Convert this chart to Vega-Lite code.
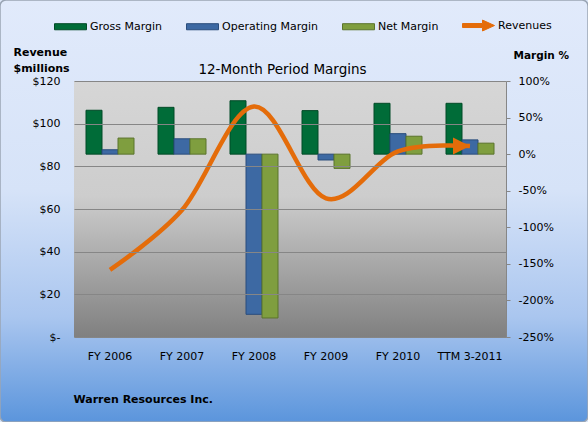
{
  "$schema": "https://vega.github.io/schema/vega-lite/v6.json",
  "width": 588,
  "height": 422,
  "autosize": {"type": "none"},
  "padding": 0,
  "background": "#dce7f9",
  "config": {
    "font": "DejaVu Sans",
    "view": {
      "fill": {
        "gradient": "linear", "x1": 0, "y1": 0, "x2": 0, "y2": 1,
        "stops": [
          {"offset": 0, "color": "#e1eafb"},
          {"offset": 0.45, "color": "#d6e3f8"},
          {"offset": 0.75, "color": "#aac6ef"},
          {"offset": 1, "color": "#5b95dc"}
        ]
      },
      "stroke": "#9aa5b4",
      "strokeWidth": 1.5,
      "cornerRadius": 6
    },
    "axis": {
      "labelFont": "DejaVu Sans",
      "labelFontSize": 11,
      "labelColor": "#000000",
      "titleFont": "DejaVu Sans",
      "titleColor": "#000000"
    }
  },
  "title": {
    "text": "12-Month Period Margins",
    "font": "DejaVu Sans",
    "fontSize": 13.5,
    "fontWeight": "normal",
    "color": "#000000",
    "anchor": "middle",
    "frame": "group",
    "dx": -11.5,
    "offset": -87,
    "baseline": "alphabetic"
  },
  "data": {
    "values": [
      {"period": "FY 2006", "revenue": 31.5, "Gross Margin": 60, "Operating Margin": 6, "Net Margin": 22},
      {"period": "FY 2007", "revenue": 59.5, "Gross Margin": 64, "Operating Margin": 21, "Net Margin": 21},
      {"period": "FY 2008", "revenue": 108, "Gross Margin": 73, "Operating Margin": -219, "Net Margin": -224},
      {"period": "FY 2009", "revenue": 65, "Gross Margin": 59.5, "Operating Margin": -8, "Net Margin": -19.5},
      {"period": "FY 2010", "revenue": 87, "Gross Margin": 69.5, "Operating Margin": 28, "Net Margin": 24.5},
      {"period": "TTM 3-2011", "revenue": 89.5, "Gross Margin": 69.5, "Operating Margin": 19.5, "Net Margin": 15}
    ]
  },
  "layer": [
    {
      "mark": {
        "type": "rect",
        "fill": {
          "gradient": "linear", "x1": 0, "y1": 0, "x2": 0, "y2": 1,
          "stops": [
            {"offset": 0, "color": "#d6d6d6"},
            {"offset": 0.45, "color": "#cdcdcd"},
            {"offset": 1, "color": "#808080"}
          ]
        },
        "strokeWidth": 0
      },
      "encoding": {
        "x": {
          "field": "period", "type": "nominal", "sort": null,
          "scale": {"type": "band", "range": [74, 506], "paddingInner": 0, "paddingOuter": 0},
          "axis": {
            "orient": "bottom",
            "offset": -85,
            "labelAngle": 0,
            "labelPadding": 13,
            "ticks": false,
            "domainColor": "#868686",
            "grid": false,
            "title": "Warren Resources Inc.",
            "titleFontSize": 11,
            "titleFontWeight": "bold",
            "titleAlign": "left",
            "titleAnchor": "start",
            "titleBaseline": "alphabetic",
            "titleX": 73,
            "titleY": 65,
            "zindex": 1
          }
        },
        "y": {
          "datum": 0, "type": "quantitative",
          "scale": {"domain": [0, 120], "range": [337, 81], "nice": false, "zero": false},
          "axis": {
            "orient": "left",
            "offset": -74,
            "values": [0, 20, 40, 60, 80, 100, 120],
            "labelExpr": "datum.value === 0 ? '$-' : '$' + datum.value",
            "ticks": false,
            "labelPadding": 14,
            "domain": false,
            "grid": true,
            "gridColor": "#868686",
            "gridWidth": 1,
            "title": ["Revenue", "$millions"],
            "titleAngle": 0,
            "titleAlign": "left",
            "titleBaseline": "alphabetic",
            "titleX": -61,
            "titleY": 55,
            "titleFontSize": 11,
            "titleFontWeight": "bold",
            "titleLineHeight": 16,
            "zindex": 1
          }
        },
        "y2": {"datum": 120}
      }
    },
    {
      "transform": [
        {"fold": ["Gross Margin", "Operating Margin", "Net Margin"], "as": ["metric", "margin"]}
      ],
      "mark": {"type": "bar", "strokeWidth": 1, "zindex": 2},
      "encoding": {
        "x": {"field": "period", "type": "nominal", "sort": null},
        "xOffset": {
          "field": "metric", "type": "nominal",
          "sort": ["Gross Margin", "Operating Margin", "Net Margin"],
          "scale": {"paddingInner": 0, "paddingOuter": 0.75}
        },
        "y": {
          "field": "margin", "type": "quantitative",
          "scale": {"domain": [-250, 100], "range": [337, 81], "nice": false},
          "axis": {
            "orient": "right",
            "offset": -82,
            "values": [-250, -200, -150, -100, -50, 0, 50, 100],
            "labelExpr": "datum.value + '%'",
            "tickSize": 4,
            "tickColor": "#868686",
            "domainColor": "#868686",
            "labelPadding": 8,
            "grid": false,
            "title": "Margin %",
            "titleAngle": 0,
            "titleAlign": "left",
            "titleBaseline": "alphabetic",
            "titleX": 7,
            "titleY": 58,
            "titleFontSize": 10.5,
            "titleFontWeight": "bold",
            "zindex": 1
          }
        },
        "color": {
          "field": "metric", "type": "nominal",
          "scale": {
            "domain": ["Gross Margin", "Operating Margin", "Net Margin", "Revenues"],
            "range": ["#006c38", "#3d69a3", "#7f9e3f", "#e46c0a"]
          },
          "legend": {
            "orient": "none",
            "legendX": 54,
            "legendY": 9,
            "direction": "horizontal",
            "columns": 4,
            "title": null,
            "padding": 0,
            "columnPadding": 21,
            "labelFont": "DejaVu Sans",
            "labelFontSize": 11,
            "labelColor": "#000000",
            "labelOffset": 3,
            "symbolSize": 1024,
            "symbolOpacity": 1,
            "symbolStrokeWidth": 1,
            "encode": {
              "symbols": {
                "update": {
                  "shape": {"signal": "datum.value === 'Revenues' ? 'M-1,-0.125H0.25V-0.34L1,0L0.25,0.34V0.125H-1Z' : 'M-1,-0.19H1V0.19H-1Z'"},
                  "stroke": {"signal": "datum.value === 'Gross Margin' ? '#004a26' : datum.value === 'Operating Margin' ? '#2a4d7c' : datum.value === 'Net Margin' ? '#5b742c' : '#e46c0a'"}
                }
              }
            }
          }
        },
        "stroke": {
          "field": "metric", "type": "nominal",
          "scale": {
            "domain": ["Gross Margin", "Operating Margin", "Net Margin"],
            "range": ["#004a26", "#2a4d7c", "#5b742c"]
          },
          "legend": null
        }
      }
    },
    {
      "mark": {"type": "line", "color": "#e46c0a", "strokeWidth": 4.5, "interpolate": "cardinal", "strokeCap": "butt", "zindex": 2},
      "encoding": {
        "x": {"field": "period", "type": "nominal", "sort": null},
        "y": {
          "field": "revenue", "type": "quantitative",
          "scale": {"domain": [0, 120], "range": [337, 81], "nice": false},
          "axis": null
        }
      }
    },
    {
      "transform": [{"filter": "datum.period === 'TTM 3-2011'"}],
      "mark": {"type": "point", "shape": "M0,0L-2,-1L-2,1Z", "filled": true, "color": "#e46c0a", "size": 289, "opacity": 1, "zindex": 2},
      "encoding": {
        "x": {"field": "period", "type": "nominal", "sort": null},
        "y": {
          "field": "revenue", "type": "quantitative",
          "scale": {"domain": [0, 120], "range": [337, 81], "nice": false},
          "axis": null
        }
      }
    }
  ],
  "resolve": {"scale": {"y": "independent"}}
}
